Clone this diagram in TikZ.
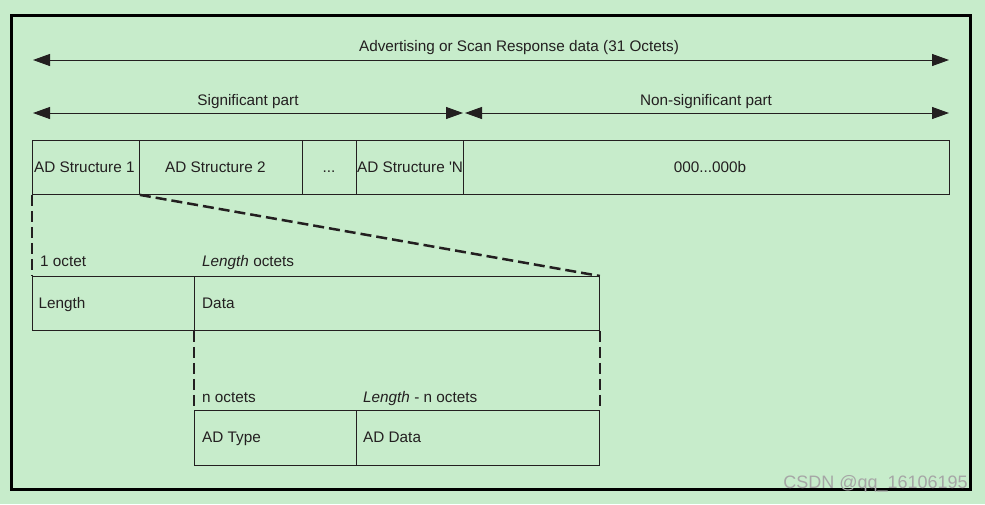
\documentclass[tikz,border=0pt]{standalone}
\usepackage{fontspec}
\setmainfont{Liberation Sans}
\usetikzlibrary{arrows.meta}
\definecolor{bg}{RGB}{199,236,203}
\definecolor{ink}{RGB}{35,31,32}
\begin{document}
\begin{tikzpicture}[x=1pt,y=-1pt,
  every node/.style={font=\fontsize{15.3}{18}\selectfont, text=ink},
  cell/.style={draw=ink, line width=0.9pt, rectangle, inner sep=0pt, anchor=north west},
  txt/.style={inner sep=0pt, anchor=base west},
  ctxt/.style={inner sep=0pt, anchor=base},
  dimarrow/.style={draw=ink, line width=1pt, {Triangle[length=17pt,width=12pt]}-{Triangle[length=17pt,width=12pt]}},
  zoomline/.style={draw=ink, line width=2.5pt, dash pattern=on 11pt off 5pt},
]
\fill[bg] (0,0) rectangle (985,504);
\useasboundingbox (0,0) rectangle (985,504);
\draw[black, line width=3pt] (11,15.3) rectangle (970,489.5);

% dimension arrows
\coordinate (topL) at (33,60);
\coordinate (topR) at (949,60);
\coordinate (sigL) at (33,113);
\coordinate (sigR) at (463,113);
\coordinate (nsL) at (465,113);
\coordinate (nsR) at (949,113);
\draw[dimarrow] (topL) -- (topR);
\draw[dimarrow] (sigL) -- (sigR);
\draw[dimarrow] (nsL) -- (nsR);
\node[ctxt] (ttop) at (519,51) {Advertising or Scan Response data (31 Octets)};
\node[ctxt] (tsig) at (248,105) {Significant part};
\node[ctxt] (tns) at (706,105) {Non-significant part};

% top row
\node[cell, minimum width=107pt, minimum height=54pt] (b1) at (32,140) {};
\node[cell, minimum width=163pt, minimum height=54pt] (b2) at (139,140) {};
\node[cell, minimum width=54pt, minimum height=54pt] (b3) at (302,140) {};
\node[cell, minimum width=107pt, minimum height=54pt] (bN) at (356,140) {};
\node[cell, minimum width=486pt, minimum height=54pt] (b0) at (463,140) {};
\node[txt] (t1) at (34,172) {AD Structure 1};
\node[txt] (t2) at (165,172) {AD Structure 2};
\node[ctxt] (t3) at (329,172) {...};
\node[txt] (tN) at (357,172) {AD Structure \textquotesingle N};
\node[ctxt] (t0) at (710,172) {000...000b};

% second row
\node[cell, minimum width=162pt, minimum height=54pt] (len) at (32,276) {};
\node[cell, minimum width=405pt, minimum height=54pt] (data) at (194,276) {};
\node[txt] (o1) at (40,266) {1 octet};
\node[txt] (oL) at (202,266) {\textit{Length} octets};
\node[txt] (tlen) at (38.5,308) {Length};
\node[txt] (tdata) at (202,308) {Data};

% third row
\node[cell, minimum width=162pt, minimum height=55pt] (adtype) at (194,410) {};
\node[cell, minimum width=243pt, minimum height=55pt] (addata) at (356,410) {};
\node[txt] (on) at (202,402) {n octets};
\node[txt] (oLn) at (363,402) {\textit{Length} - n octets};
\node[txt] (ttype) at (202,442) {AD Type};
\node[txt] (tad) at (363,442) {AD Data};

% zoom connectors
\draw[zoomline] (b1.south west) -- (len.north west);
\draw[zoomline] (b1.south east) -- (data.north east);
\draw[zoomline] (data.south west) -- (adtype.north west);
\draw[zoomline] (data.south east) -- (addata.north east);

% watermark
\node[inner sep=0pt, anchor=base east, font=\fontsize{18}{20}\selectfont, text=gray!70!white] (wm) at (968,488) {CSDN @qq\_16106195};
\end{tikzpicture}
\end{document}
